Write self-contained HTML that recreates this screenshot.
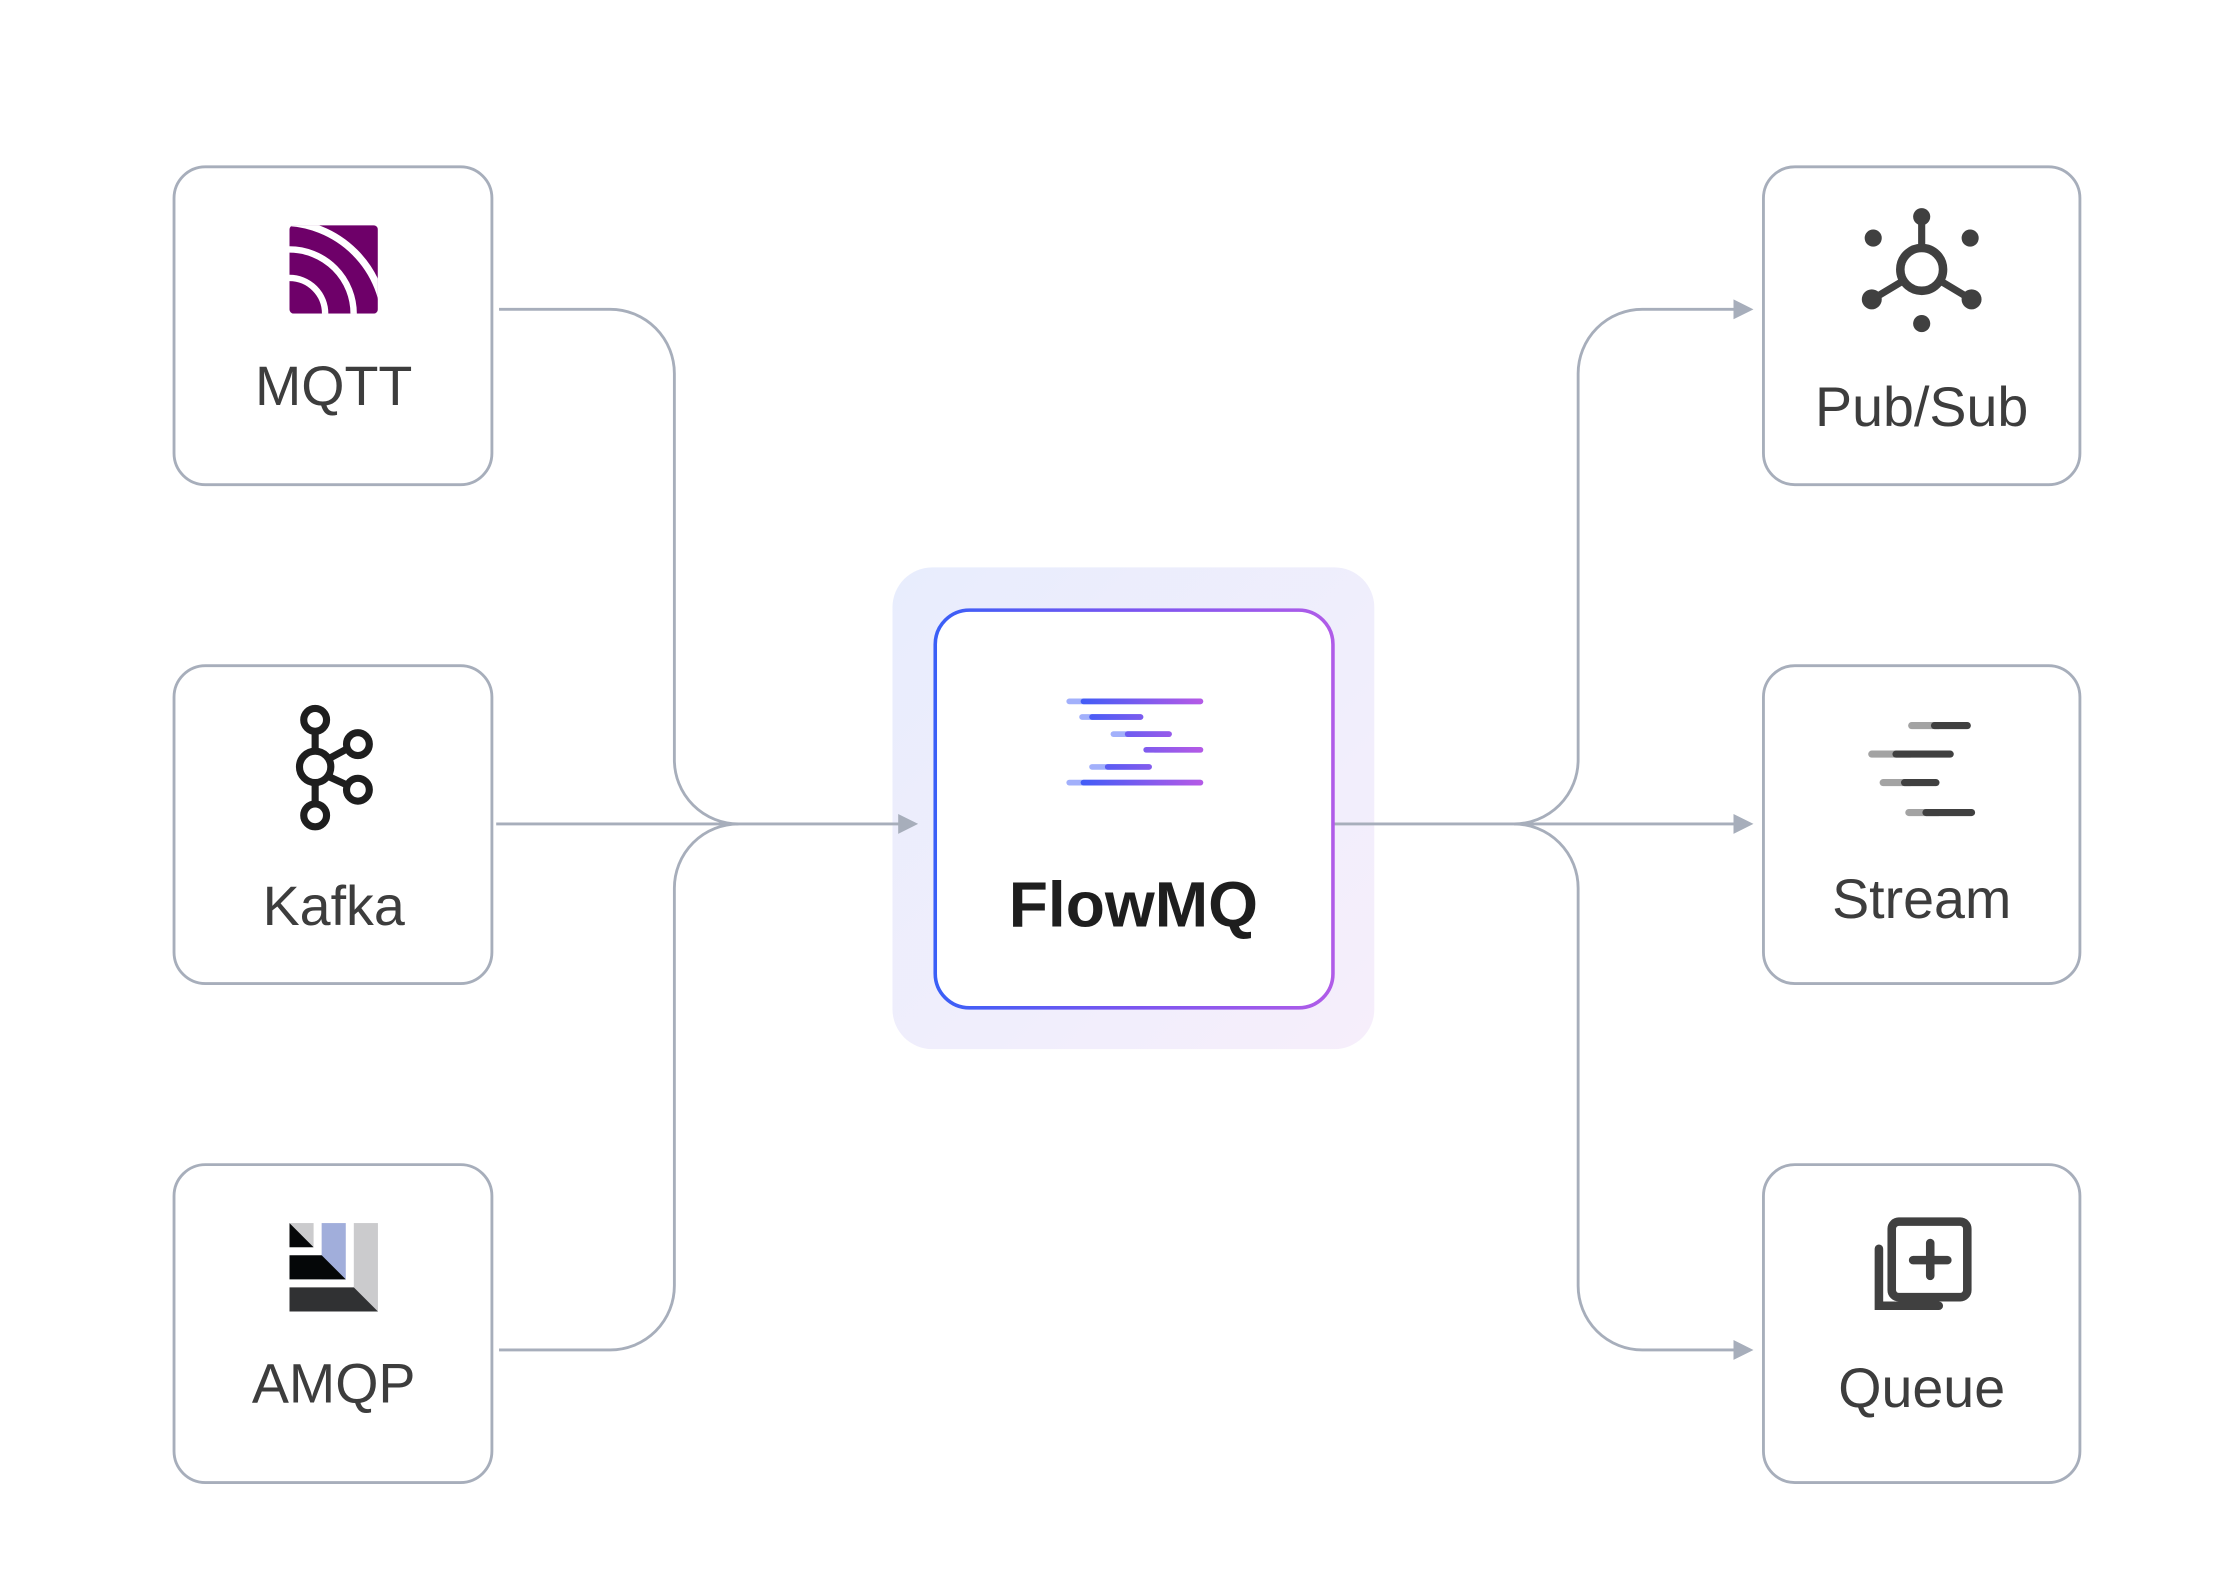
<!DOCTYPE html>
<html><head><meta charset="utf-8"><style>
html,body{margin:0;padding:0;background:#fff;}
svg{display:block;}
text{font-family:"Liberation Sans",Arial,sans-serif;}
</style></head><body>
<svg width="2224" height="1588" viewBox="0 0 1560 1114" xmlns="http://www.w3.org/2000/svg">
<defs>
<linearGradient id="bg" x1="0" y1="0" x2="1" y2="1"><stop offset="0" stop-color="#e8edfd"/><stop offset="1" stop-color="#f6eefb"/></linearGradient>
<linearGradient id="bd" x1="0" y1="0" x2="1" y2="0"><stop offset="0" stop-color="#3a5ff7"/><stop offset="0.5" stop-color="#7b55f0"/><stop offset="1" stop-color="#b05ce8"/></linearGradient>
<linearGradient id="ln" gradientUnits="userSpaceOnUse" x1="755" y1="0" x2="842" y2="0"><stop offset="0" stop-color="#3d5cf7"/><stop offset="1" stop-color="#b45ae6"/></linearGradient>
<clipPath id="mq"><rect x="203" y="158" width="62" height="62" rx="3"/></clipPath>
</defs>

<rect x="626" y="398" width="338" height="338" rx="28" fill="url(#bg)"/>

<g fill="none" stroke="#a7aebb" stroke-width="2">
<rect x="122" y="117" width="223" height="223" rx="22" fill="#fff"/>
<rect x="122" y="467" width="223" height="223" rx="22" fill="#fff"/>
<rect x="122" y="817" width="223" height="223" rx="22" fill="#fff"/>
<rect x="1237" y="117" width="222" height="223" rx="22" fill="#fff"/>
<rect x="1237" y="467" width="222" height="223" rx="22" fill="#fff"/>
<rect x="1237" y="817" width="222" height="223" rx="22" fill="#fff"/>
<path d="M350 217 H428 A45 45 0 0 1 473 262 V533 A45 45 0 0 0 518 578"/>
<path d="M350 947 H428 A45 45 0 0 0 473 902 V623 A45 45 0 0 1 518 578"/>
<path d="M348 578 H632"/>
<path d="M935 578 H1062"/>
<path d="M1062 578 A45 45 0 0 0 1107 533 V262 A45 45 0 0 1 1152 217 H1218"/>
<path d="M1062 578 H1218"/>
<path d="M1062 578 A45 45 0 0 1 1107 623 V902 A45 45 0 0 0 1152 947 H1218"/>
</g>
<g fill="#a7aebb">
<path d="M630 571 L644 578 L630 585Z"/>
<path d="M1216 210 L1230 217 L1216 224Z"/>
<path d="M1216 571 L1230 578 L1216 585Z"/>
<path d="M1216 940 L1230 947 L1216 954Z"/>
</g>

<rect x="656" y="428" width="279" height="279" rx="24" fill="#fff" stroke="url(#bd)" stroke-width="2.5"/>
<g stroke-linecap="round" stroke-width="4">
<g stroke="#a2b0fb">
<path d="M750 492 H842"/><path d="M759 503 H800"/><path d="M781 515 H820"/><path d="M810 526 H842"/><path d="M766 538 H806"/><path d="M750 549 H842"/>
</g>
<g stroke="url(#ln)">
<path d="M760 492 H842"/><path d="M766 503 H800"/><path d="M791 515 H820"/><path d="M804 526 H842"/><path d="M777 538 H806"/><path d="M760 549 H842"/>
</g>
</g>
<text x="795" y="650" font-size="45" font-weight="bold" fill="#1e1e1e" text-anchor="middle">FlowMQ</text>

<!-- MQTT icon -->
<g clip-path="url(#mq)">
<rect x="203" y="158" width="62" height="62" fill="#6e0069"/>
<g fill="none" stroke="#fff">
<circle cx="203" cy="220" r="25" stroke-width="4.5"/>
<circle cx="203" cy="220" r="45" stroke-width="4.5"/>
<circle cx="198" cy="228" r="72" stroke-width="5"/>
</g>
</g>
<text x="234" y="284" font-size="39" fill="#3d3d3d" text-anchor="middle">MQTT</text>

<!-- Kafka icon -->
<g fill="none" stroke="#1e1e1e" stroke-width="5">
<path d="M221 513 V527 M221 549 V564 M231 532 L244 525 M231 545 L244 551"/>
<circle cx="221" cy="505" r="8"/>
<circle cx="221" cy="538" r="11"/>
<circle cx="251" cy="522" r="8"/>
<circle cx="251" cy="554" r="8"/>
<circle cx="221" cy="572" r="8"/>
</g>
<text x="234" y="649" font-size="39" fill="#3d3d3d" text-anchor="middle">Kafka</text>

<!-- AMQP icon -->
<g transform="translate(203 858) scale(0.705)">
<rect x="0" y="0" width="24" height="24" fill="#cbcbcd"/>
<path d="M0 0 L24 24 H0Z" fill="#050708"/>
<rect x="32" y="0" width="24" height="56" fill="#a1aedb"/>
<path d="M0 32 H32 L56 56 H0Z" fill="#050708"/>
<rect x="64" y="0" width="24" height="88" fill="#cbcbcd"/>
<path d="M0 64 H64 L88 88 H0Z" fill="#303133"/>
</g>
<text x="234" y="984" font-size="39" fill="#3d3d3d" text-anchor="middle">AMQP</text>

<!-- Pub/Sub icon -->
<g fill="#404040" stroke="#404040">
<circle cx="1348" cy="189" r="15" fill="none" stroke-width="6"/>
<path d="M1348 155 V173 M1335 197 L1315 209 M1361 197 L1381 209" stroke-width="5"/>
<circle cx="1348" cy="152" r="6" stroke="none"/>
<circle cx="1314" cy="167" r="6" stroke="none"/>
<circle cx="1382" cy="167" r="6" stroke="none"/>
<circle cx="1348" cy="227" r="6" stroke="none"/>
<circle cx="1313" cy="210" r="7" stroke="none"/>
<circle cx="1383" cy="210" r="7" stroke="none"/>
</g>
<text x="1348" y="299" font-size="39" fill="#3d3d3d" text-anchor="middle">Pub/Sub</text>

<!-- Stream icon -->
<g stroke-linecap="round" stroke-width="5">
<g stroke="#a3a3a3">
<path d="M1341 509 H1360"/><path d="M1313 529 H1340"/><path d="M1321 549 H1340"/><path d="M1339 570 H1360"/>
</g>
<g stroke="#404040">
<path d="M1357 509 H1380"/><path d="M1330 529 H1368"/><path d="M1336 549 H1358"/><path d="M1351 570 H1383"/>
</g>
</g>
<text x="1348" y="644" font-size="39" fill="#3d3d3d" text-anchor="middle">Stream</text>

<!-- Queue icon -->
<g fill="none" stroke="#404040" stroke-width="6" stroke-linecap="round">
<path d="M1318 876 V916 H1360"/>
<rect x="1327" y="857" width="53" height="53" rx="5"/>
<path d="M1354 872 V895 M1342 884 H1366"/>
</g>
<text x="1348" y="987" font-size="39" fill="#3d3d3d" text-anchor="middle">Queue</text>
</svg>
</body></html>
